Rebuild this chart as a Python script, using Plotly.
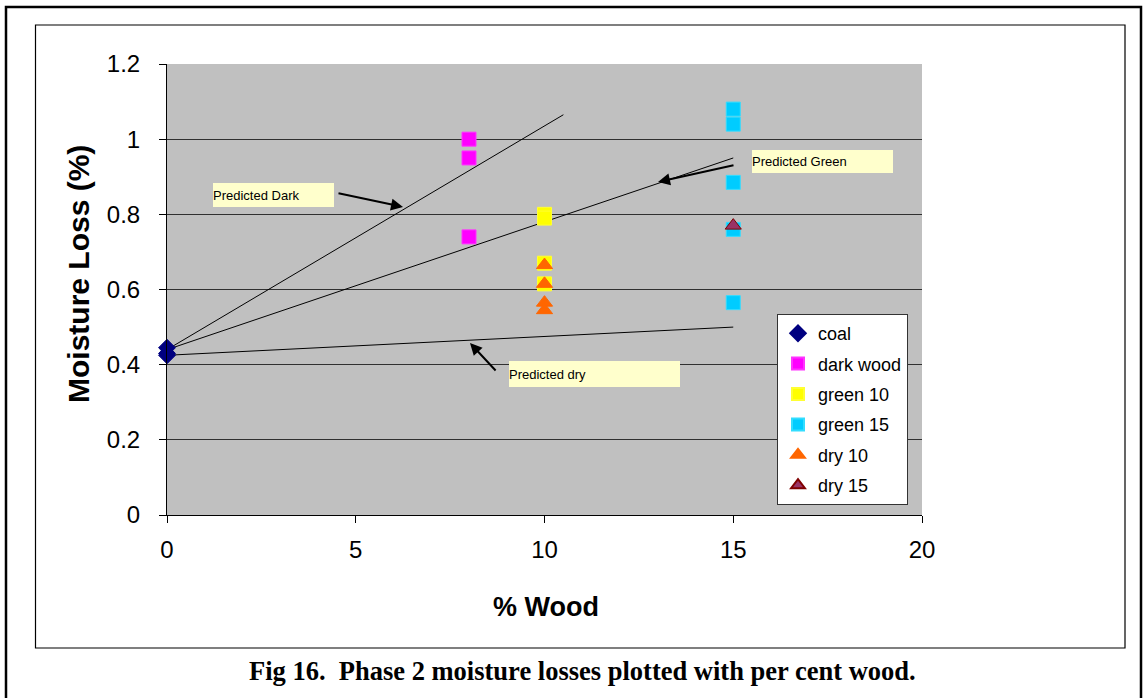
import plotly.graph_objects as go

# ---------------- data ----------------
coal_x = [0, 0, 0]
coal_y = [0.445, 0.43, 0.425]
dark_x = [8, 8, 8]
dark_y = [1.0, 0.95, 0.74]
green10_x = [10, 10, 10, 10]
green10_y = [0.80, 0.79, 0.67, 0.615]
green15_x = [15, 15, 15, 15, 15]
green15_y = [1.08, 1.04, 0.885, 0.76, 0.565]
dry10_x = [10, 10, 10, 10]
dry10_y = [0.665, 0.615, 0.565, 0.545]
dry15_x = [15]
dry15_y = [0.77]

pred_dark_x = [0, 10.5]
pred_dark_y = [0.44, 1.065]
pred_green_x = [0, 15]
pred_green_y = [0.44, 0.95]
pred_dry_x = [0, 15]
pred_dry_y = [0.425, 0.50]

x_ticks = [0, 5, 10, 15, 20]
y_ticks = [0, 0.2, 0.4, 0.6, 0.8, 1.0, 1.2]
y_tick_labels = ["0", "0.2", "0.4", "0.6", "0.8", "1", "1.2"]

# ---------------- layout geometry (pixels) ----------------
W, H = 1148, 698
PL, PR, PT, PB = 167, 922, 64, 515


def px(xp):
    return (xp - PL) / (PR - PL)


def py(yp):
    return (PB - yp) / (PB - PT)


FONT = "Liberation Sans, Arial, sans-serif"

fig = go.Figure()

# predicted lines
for lx, ly in [(pred_dark_x, pred_dark_y), (pred_green_x, pred_green_y), (pred_dry_x, pred_dry_y)]:
    fig.add_trace(go.Scatter(x=lx, y=ly, mode="lines", line=dict(color="black", width=1),
                             showlegend=False, hoverinfo="skip", cliponaxis=False))

series = [
    ("coal", coal_x, coal_y, "diamond", 13, "#000080", "#000080"),
    ("dark wood", dark_x, dark_y, "square", 14, "#FF00FF", "#FF33FF"),
    ("green 10", green10_x, green10_y, "square", 14, "#FFFF00", "#FFFF33"),
    ("green 15", green15_x, green15_y, "square", 14, "#00CCFF", "#33DDFF"),
    ("dry 10", dry10_x, dry10_y, "triangle-up", 14, "#FF6600", "#FF6600"),
    ("dry 15", dry15_x, dry15_y, "triangle-up", 14, "#993366", "#800000"),
]
for name, sx, sy, sym, sz, col, lcol in series:
    fig.add_trace(go.Scatter(x=sx, y=sy, mode="markers", name=name, legendgroup=name,
                             cliponaxis=False,
                             marker=dict(symbol=sym, size=sz, color=col,
                                         line=dict(color=lcol, width=1))))

annotations = []
# text boxes
for txt, cx, cy, w, h in [
    ("Predicted Dark", 273.5, 195, 129, 24),
    ("Predicted Green", 822.5, 161.5, 149, 23),
    ("Predicted dry", 594.5, 374, 179, 26),
]:
    annotations.append(dict(xref="paper", yref="paper", x=px(cx), y=py(cy), xanchor="center",
                            yanchor="middle", text=txt, showarrow=False, width=w - 8, height=h,
                            align="left", valign="middle", bgcolor="#FFFFCC", borderpad=0,
                            borderwidth=0, font=dict(family=FONT, size=13, color="black")))
# arrows
for hx, hy, tx, ty in [
    (403, 207, 337, 193),
    (658, 182, 735, 165),
    (470, 343, 497, 372),
]:
    annotations.append(dict(xref="x", yref="y", axref="x", ayref="y",
                            x=(hx - PL) / (PR - PL) * 20, y=(PB - hy) / (PB - PT) * 1.2,
                            ax=(tx - PL) / (PR - PL) * 20, ay=(PB - ty) / (PB - PT) * 1.2,
                            text="", showarrow=True, arrowhead=2, arrowsize=1.2,
                            arrowwidth=2, arrowcolor="black"))
# axis titles (placed as annotations for precise positioning)
annotations.append(dict(xref="paper", yref="paper", x=px(546), y=py(607), xanchor="center",
                        yanchor="middle", showarrow=False, text="<b>% Wood</b>",
                        font=dict(family=FONT, size=27, color="black")))
annotations.append(dict(xref="paper", yref="paper", x=px(78), y=py(274), xanchor="center",
                        yanchor="middle", showarrow=False, text="<b>Moisture Loss (%)</b>",
                        textangle=-90, font=dict(family=FONT, size=30, color="black")))
# caption
annotations.append(dict(xref="paper", yref="paper", x=px(582), y=py(671), xanchor="center",
                        yanchor="middle", showarrow=False,
                        text="<b>Fig 16.  Phase 2 moisture losses plotted with per cent wood.</b>",
                        font=dict(family="Liberation Serif, Times New Roman, serif", size=26.5,
                                  color="black")))

shapes = [
    dict(type="rect", xref="paper", yref="paper", x0=px(6), x1=px(1141), y0=py(720), y1=py(7),
         line=dict(color="black", width=2.5), fillcolor="rgba(0,0,0,0)", layer="below"),
    dict(type="rect", xref="paper", yref="paper", x0=px(35.5), x1=px(1125), y0=py(648),
         y1=py(25), line=dict(color="black", width=1.2), fillcolor="rgba(0,0,0,0)",
         layer="below"),
]

fig.update_layout(
    width=W, height=H,
    margin=dict(l=PL, r=W - PR, t=PT, b=H - PB),
    paper_bgcolor="white",
    plot_bgcolor="#C0C0C0",
    font=dict(family=FONT, color="black"),
    showlegend=True,
    legend=dict(x=px(777), y=py(314), xanchor="left", yanchor="top",
                bgcolor="white", bordercolor="#333333", borderwidth=1,
                font=dict(family=FONT, size=18, color="black"),
                tracegroupgap=4, itemsizing="constant", itemwidth=30),
    annotations=annotations,
    shapes=shapes,
    xaxis=dict(range=[0, 20], tickvals=x_ticks, ticks="outside", ticklen=7, tickcolor="black",
               showline=True, linecolor="black", linewidth=1, showgrid=False, zeroline=False,
               tickfont=dict(size=24, family=FONT), ticklabelstandoff=6),
    yaxis=dict(range=[0, 1.2], tickvals=y_ticks, ticktext=y_tick_labels, ticks="outside",
               ticklen=7, tickcolor="black", showline=True, linecolor="black", linewidth=1,
               showgrid=True, gridcolor="#303030", gridwidth=1, zeroline=False,
               tickfont=dict(size=24, family=FONT), ticklabelstandoff=14),
)

fig.write_html("out.html", config={"displayModeBar": False})
